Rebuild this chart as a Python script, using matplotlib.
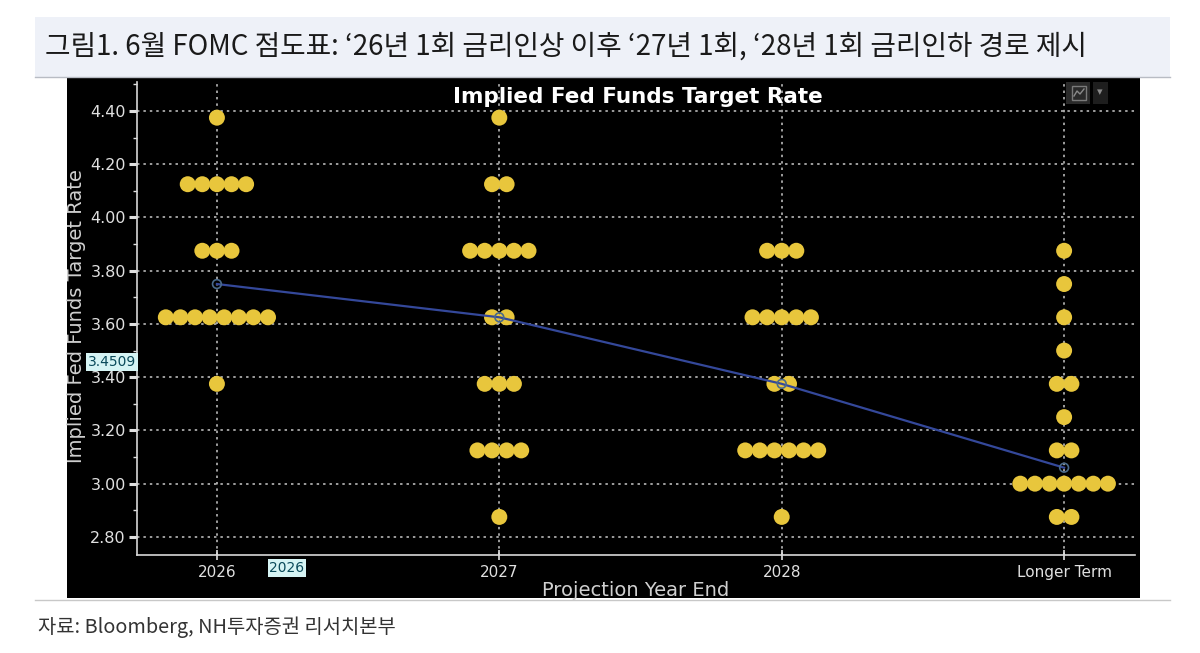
import numpy as np
import matplotlib
matplotlib.use("Agg")
import matplotlib.pyplot as plt
from matplotlib.patches import Rectangle
from matplotlib.lines import Line2D
from matplotlib.ticker import MultipleLocator, FormatStrFormatter

categories = ["2026", "2027", "2028", "Longer Term"]

# dot plot: rate level -> number of participants
rates_2026 = [4.375, 4.125, 3.875, 3.625, 3.375]
counts_2026 = [1, 5, 3, 8, 1]
rates_2027 = [4.375, 4.125, 3.875, 3.625, 3.375, 3.125, 2.875]
counts_2027 = [1, 2, 5, 2, 3, 4, 1]
rates_2028 = [3.875, 3.625, 3.375, 3.125, 2.875]
counts_2028 = [3, 5, 2, 6, 1]
rates_longer = [3.875, 3.75, 3.625, 3.5, 3.375, 3.25, 3.125, 3.0, 2.875]
counts_longer = [1, 1, 1, 1, 2, 1, 2, 7, 2]

median_path = [3.75, 3.625, 3.375, 3.06]

yticks = [2.8, 3.0, 3.2, 3.4, 3.6, 3.8, 4.0, 4.2, 4.4]

title_kr = "그림1. 6월 FOMC 점도표: ‘26년 1회 금리인상 이후 ‘27년 1회, ‘28년 1회 금리인하 경로 제시"
source_kr = "자료: Bloomberg, NH투자증권 리서치본부"

W, H = 1200, 653
fig = plt.figure(figsize=(W / 100, H / 100), dpi=100)
fig.patch.set_facecolor("white")


def fx(px):
    return px / W


def fy(py):
    return 1 - py / H


# header band
fig.add_artist(Rectangle((fx(35), fy(77)), fx(1170) - fx(35), fy(17) - fy(77),
                         transform=fig.transFigure, facecolor="#eef1f8", edgecolor="none",
                         zorder=-10))
fig.add_artist(Line2D([fx(35), fx(1170)], [fy(77), fy(77)], transform=fig.transFigure,
                      color="#b8bcc4", lw=1, zorder=-9))
fig.text(fx(45), fy(47), title_kr, fontsize=20, color="#1a1a1a", va="center", ha="left",
         family=["Noto Sans CJK KR", "DejaVu Sans"])

# black bloomberg panel
fig.add_artist(Rectangle((fx(67), fy(598)), fx(1140) - fx(67), fy(78) - fy(598),
                         transform=fig.transFigure, facecolor="black", edgecolor="none",
                         zorder=-10))
fig.add_artist(Line2D([fx(35), fx(1170)], [fy(600), fy(600)], transform=fig.transFigure,
                      color="#c8c8c8", lw=1, zorder=-9))
fig.text(fx(38), fy(627), source_kr, fontsize=14.3, color="#333333", va="center", ha="left",
         family=["Noto Sans CJK KR", "DejaVu Sans"])

ax = fig.add_axes([fx(137), fy(555), fx(1135) - fx(137), fy(82) - fy(555)])
ax.set_facecolor("black")
ax.set_xlim(-0.283, 3.251)
ax.set_ylim(2.732, 4.509)

spacing = 0.0517
dot_color = "#e8c63c"
groups = [(rates_2026, counts_2026), (rates_2027, counts_2027),
          (rates_2028, counts_2028), (rates_longer, counts_longer)]
for i, (rates, counts) in enumerate(groups):
    for r, n in zip(rates, counts):
        xs = i + (np.arange(n) - (n - 1) / 2) * spacing
        ax.scatter(xs, [r] * n, s=132, color=dot_color, edgecolors="none", zorder=3)

ax.plot(range(len(categories)), median_path, color="#34489a", lw=1.6, zorder=4)
ax.scatter(range(len(categories)), median_path, s=40, facecolors="none",
           edgecolors="#4a6a8a", linewidths=1.2, zorder=5)

# grid
for yv in yticks:
    ax.axhline(yv, color="#c8c8c8", lw=1.1, ls=(0, (1.6, 2.6)), zorder=1)
for i in range(len(categories)):
    ax.axvline(i, color="#c8c8c8", lw=1.1, ls=(0, (1.6, 2.6)), zorder=1)

ax.set_yticks(yticks)
ax.yaxis.set_major_formatter(FormatStrFormatter("%.2f"))
ax.yaxis.set_minor_locator(MultipleLocator(0.1))
ax.set_xticks(range(len(categories)))
ax.set_xticklabels(categories)

ax.tick_params(axis="y", which="major", colors="#e0e0e0", labelcolor="#e0e0e0",
               labelsize=11.5, direction="out", length=6, width=2.2, pad=2)
ax.tick_params(axis="y", which="minor", colors="#e0e0e0", direction="out",
               length=3, width=1)
ax.tick_params(axis="x", colors="#e0e0e0", labelcolor="#e0e0e0", labelsize=11,
               direction="inout", length=7, width=1.2, pad=4)

for side in ["top", "right"]:
    ax.spines[side].set_visible(False)
for side in ["left", "bottom"]:
    ax.spines[side].set_color("#d8d8d8")
    ax.spines[side].set_linewidth(1.2)

fig.text(fx(77), fy(316), "Implied Fed Funds Target Rate", color="#d0d0d0", fontsize=14,
         rotation=90, ha="center", va="center")
fig.text(fx(636), fy(591), "Projection Year End", color="#d0d0d0", fontsize=14,
         ha="center", va="center")
fig.text(fx(638), fy(97), "Implied Fed Funds Target Rate", color="white", fontsize=15.5,
         fontweight="bold", ha="center", va="center")

# crosshair readouts
fig.text(fx(112), fy(362), "3.4509", color="#0a4a5a", fontsize=10, ha="center", va="center",
         bbox=dict(boxstyle="square,pad=0.12", facecolor="#d6f4f4", edgecolor="none"))
fig.text(fx(287), fy(568), "2026", color="#0a4a5a", fontsize=10, ha="center", va="center",
         bbox=dict(boxstyle="square,pad=0.12", facecolor="#d6f4f4", edgecolor="none"))

# chart type icon
fig.add_artist(Rectangle((fx(1066), fy(104)), fx(24), fy(82) - fy(104), transform=fig.transFigure,
                         facecolor="#2a2a2a", edgecolor="none"))
fig.add_artist(Rectangle((fx(1072), fy(100)), fx(14), fy(86) - fy(100), transform=fig.transFigure,
                         facecolor="none", edgecolor="#7a7a7a", lw=1))
fig.add_artist(Line2D([fx(1074), fx(1077), fx(1080), fx(1084)],
                      [fy(96), fy(91), fy(94), fy(89)], transform=fig.transFigure,
                      color="#8a8a8a", lw=1))
fig.add_artist(Rectangle((fx(1093), fy(104)), fx(15), fy(82) - fy(104), transform=fig.transFigure,
                         facecolor="#1e1e1e", edgecolor="none"))
fig.text(fx(1100), fy(92), "▾", color="#8a8a8a", fontsize=8, ha="center", va="center")

fig.savefig("out.png", dpi=100, facecolor="white")
